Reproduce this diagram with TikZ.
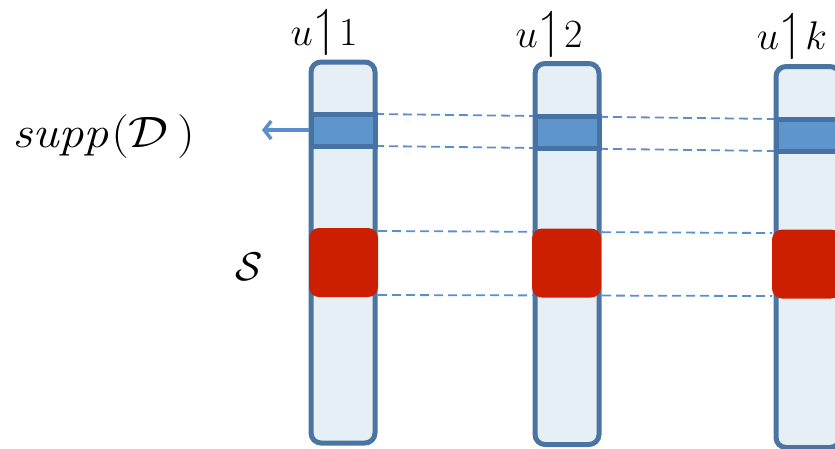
\documentclass[tikz,border=0pt]{standalone}
\usepackage{amssymb}
\usetikzlibrary{arrows.meta}
\definecolor{barfill}{HTML}{E6EEF6}
\definecolor{barline}{HTML}{4A75A2}
\definecolor{bandfill}{HTML}{5E95CD}
\definecolor{bandline}{HTML}{4672A4}
\definecolor{redbox}{HTML}{CC1F00}
\definecolor{dashcol}{HTML}{5B8FCB}
\newcommand{\myharp}{\mkern1mu\scalebox{1.3}{$\upharpoonleft$}\mkern1mu}
\tikzset{
  barbox/.style={draw=barline, fill=barfill, line width=5pt, rounded corners=10pt, inner sep=0pt, minimum width=64pt, minimum height=381pt},
  bandbox/.style={draw=bandline, fill=bandfill, line width=5pt, inner sep=0pt, minimum width=64pt, minimum height=32pt},
  redrect/.style={fill=redbox, rounded corners=10pt, inner sep=0pt, minimum width=69pt, minimum height=69pt},
  guide/.style={draw=dashcol, line width=1.8pt, dash pattern=on 9pt off 5pt},
  lbl/.style={inner sep=0pt, anchor=base, font=\huge, scale=1.93}
}
\begin{document}
\begin{tikzpicture}[x=1pt,y=-1pt]
\useasboundingbox (0,0) rectangle (835,448);
\clip (0,0) rectangle (835,448);
% dashed guide lines (behind bars)
\coordinate (g1s) at (375,114); \coordinate (g1e) at (776,119);
\coordinate (g2s) at (375,146); \coordinate (g2e) at (776,151);
\coordinate (g3s) at (378,231); \coordinate (g3e) at (772,233);
\coordinate (g4s) at (378,295); \coordinate (g4e) at (772,296);
\draw[guide] (g1s) -- (g1e);
\draw[guide] (g2s) -- (g2e);
\draw[guide] (g3s) -- (g3e);
\draw[guide] (g4s) -- (g4e);
% bars
\node[barbox] (bar1) at (343,252.5) {};
\node[barbox] (bar2) at (567,254) {};
\node[barbox] (bar3) at (808,257) {};
% bands
\node[bandbox] (band1) at (343,130) {};
\node[bandbox] (band2) at (567,132) {};
\node[bandbox] (band3) at (808,135) {};
% red blocks
\node[redrect] (red1) at (343.5,262.5) {};
\node[redrect] (red2) at (566.5,263) {};
\node[redrect] (red3) at (806.5,264) {};
% arrow
\coordinate (arrend) at (262,130);
\draw[draw=dashcol, line width=3.5pt, -{Straight Barb[length=7pt,width=18pt]}] (band1.west) -- (arrend);
% labels
\node[lbl] (l1) at (324,45) {$u\myharp 1$};
\node[lbl] (l2) at (549,47) {$u\myharp 2$};
\node[lbl] (l3) at (792,49) {$u\myharp k$};
\node[inner sep=0pt, anchor=base west, font=\huge, xscale=2.4, yscale=2.12] (supp) at (12,147) {$\mathit{supp}(\mathcal{D}\,)$};
\node[lbl] (S) at (249,280) {$\mathcal{S}$};
\end{tikzpicture}
\end{document}
